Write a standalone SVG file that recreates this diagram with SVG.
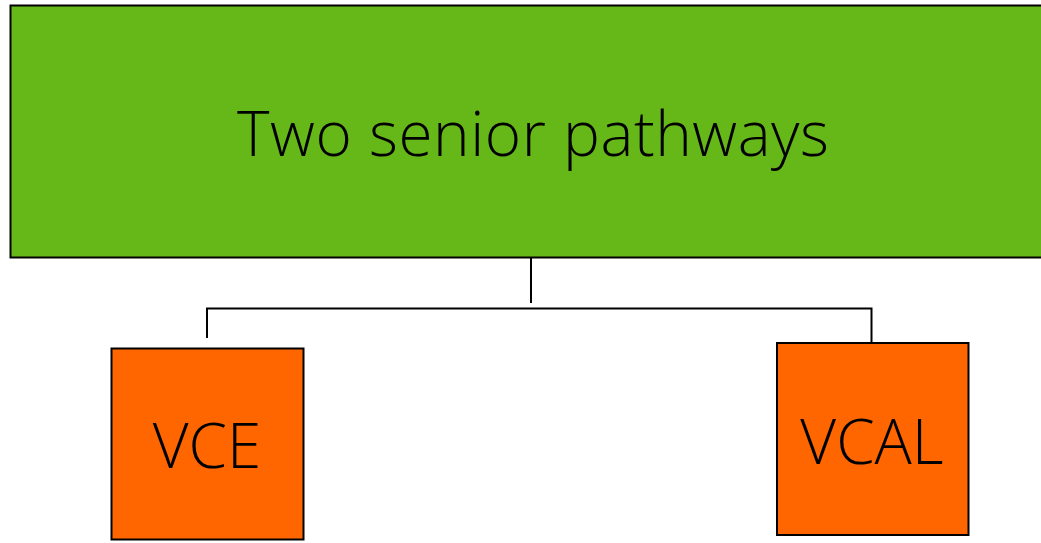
<svg xmlns="http://www.w3.org/2000/svg" width="1041" height="543" viewBox="0 0 1041 543">
<style>
.box{stroke:#000;stroke-width:2}
.lbl{font-family:"Open Sans","Liberation Sans",sans-serif;font-weight:300;font-size:62px;fill:#000;text-anchor:middle}
.conn{stroke:#000;stroke-width:2;fill:none}
</style>
<rect width="1041" height="543" fill="#fff"/>
<g id="root">
<rect class="box" x="10.5" y="5.5" width="1040" height="252" fill="#66B819"/>
<text class="lbl" x="533" y="156" textLength="592" lengthAdjust="spacing">Two senior pathways</text>
</g>
<g id="connectors">
<line class="conn" x1="531" y1="258" x2="531" y2="303"/>
<polyline class="conn" points="207,338 207,308.5 871.5,308.5 871.5,343"/>
</g>
<g id="vce">
<rect class="box" x="111.5" y="348.5" width="192" height="191" fill="#FF6600"/>
<text class="lbl" x="207" y="468">VCE</text>
</g>
<g id="vcal">
<rect class="box" x="777" y="343" width="191.5" height="192" fill="#FF6600"/>
<text class="lbl" x="872" y="464">VCAL</text>
</g>
</svg>
